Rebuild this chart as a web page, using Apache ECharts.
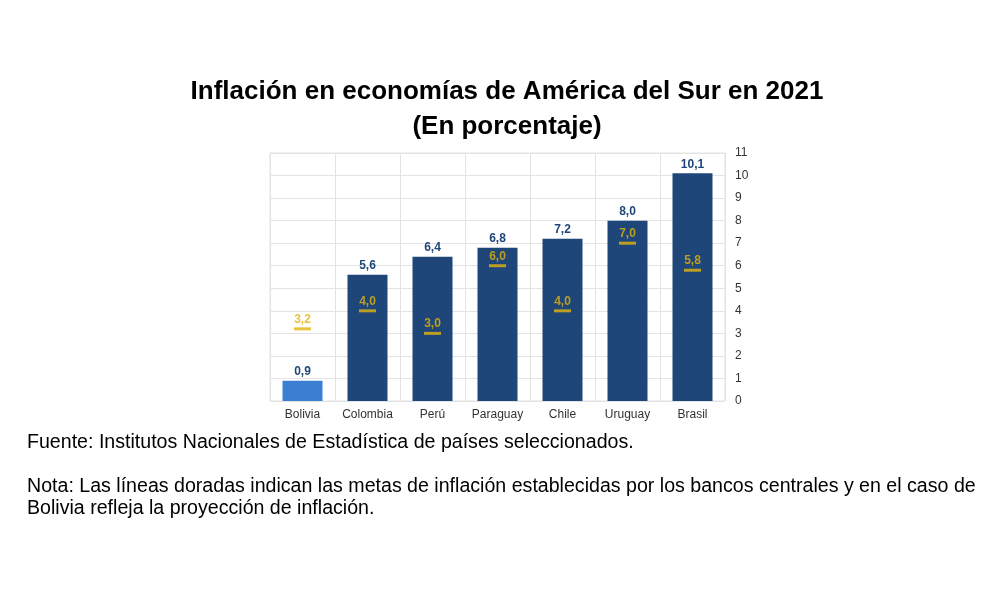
<!DOCTYPE html>
<html>
<head>
<meta charset="utf-8">
<script src="https://cdn.jsdelivr.net/npm/echarts@6/dist/echarts.min.js"></script>
<style>
  html, body { margin: 0; padding: 0; background: #fff; }
  #chart { width: 1000px; height: 600px; }
</style>
</head>
<body>
<div id="chart"></div>
<script>
const countries = ['Bolivia', 'Colombia', 'Perú', 'Paraguay', 'Chile', 'Uruguay', 'Brasil'];
const inflation = [0.9, 5.6, 6.4, 6.8, 7.2, 8.0, 10.1];
const targets = [3.2, 4.0, 3.0, 6.0, 4.0, 7.0, 5.8];

const fmt = v => v.toFixed(1).replace('.', ',');

const chart = echarts.init(document.getElementById('chart'));

const option = {
  animation: false,
  title: {
    text: 'Inflación en economías de América del Sur en 2021\n(En porcentaje)',
    left: 502,
    textAlign: 'center',
    top: 69,
    textStyle: {
      fontFamily: 'Liberation Sans',
      fontSize: 26,
      fontWeight: 'bold',
      color: '#000',
      lineHeight: 35
    }
  },
  graphic: [
    {
      type: 'text',
      left: 27,
      top: 433,
      style: {
        text: 'Fuente: Institutos Nacionales de Estadística de países seleccionados.',
        font: '19.6px "Liberation Sans"',
        fill: '#000'
      }
    },
    {
      type: 'text',
      left: 27,
      top: 476,
      style: {
        text: 'Nota: Las líneas doradas indican las metas de inflación establecidas por los bancos centrales y en el caso de\nBolivia refleja la proyección de inflación.',
        font: '19.6px "Liberation Sans"',
        lineHeight: 22,
        fill: '#000'
      }
    }
  ],
  grid: {
    left: 270,
    right: 275,
    top: 153,
    bottom: 199,
    show: true,
    borderColor: '#e3e3e3',
    borderWidth: 1
  },
  xAxis: {
    type: 'category',
    data: countries,
    axisLine: { show: false },
    axisTick: { show: false },
    splitLine: { show: true, interval: 0, lineStyle: { color: '#e3e3e3' } },
    axisLabel: {
      interval: 0,
      fontFamily: 'Liberation Sans',
      fontSize: 12,
      color: '#333',
      margin: 8
    }
  },
  yAxis: {
    type: 'value',
    position: 'right',
    min: 0,
    max: 11,
    interval: 1,
    axisLine: { show: false },
    axisTick: { show: false },
    splitLine: { lineStyle: { color: '#e3e3e3' } },
    axisLabel: {
      fontFamily: 'Liberation Sans',
      fontSize: 12,
      color: '#333',
      margin: 10
    }
  },
  series: [
    {
      type: 'bar',
      barWidth: 40,
      data: inflation.map((v, i) => ({
        value: v,
        itemStyle: { color: i === 0 ? '#3b7fd3' : '#1e4679' }
      })),
      label: {
        show: true,
        position: 'top',
        distance: 3,
        formatter: p => fmt(p.value),
        fontFamily: 'Liberation Sans',
        fontSize: 12,
        fontWeight: 'bold',
        color: '#1e4679'
      }
    },
    {
      type: 'scatter',
      symbol: 'rect',
      symbolSize: [17, 3],
      itemStyle: { color: '#e2b40c' },
      data: targets,
      z: 5,
      label: {
        show: true,
        position: 'top',
        distance: 2,
        formatter: p => fmt(p.value),
        fontFamily: 'Liberation Sans',
        fontSize: 12,
        fontWeight: 'bold',
        color: '#e2b40c'
      }
    }
  ]
};

chart.setOption(option);
</script>
</body>
</html>
